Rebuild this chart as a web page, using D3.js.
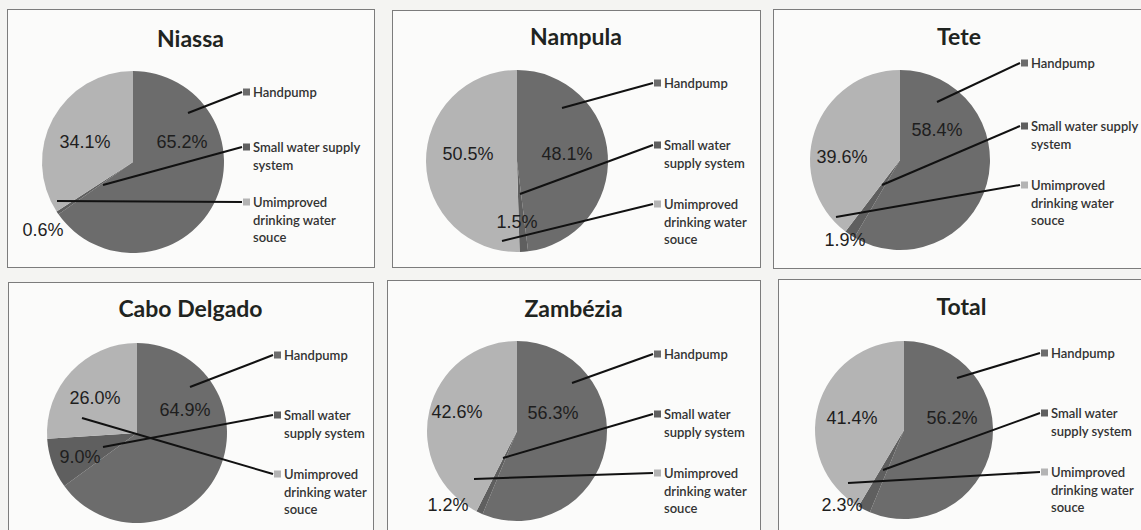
<!DOCTYPE html>
<html>
<head>
<meta charset="utf-8">
<script src="https://cdn.jsdelivr.net/npm/d3@7"></script>
<style>
  html, body { margin: 0; padding: 0; background: #f4f4f2; }
  svg { display: block; }
</style>
</head>
<body>
<div id="chart"></div>
<script>
// ---- Data ----
const regions = ["Niassa", "Nampula", "Tete", "Cabo Delgado", "Zambézia", "Total"];
const categories = ["Handpump", "Small water supply system", "Umimproved drinking water souce"];
const handpump   = [65.2, 48.1, 58.4, 64.9, 56.3, 56.2];
const smallWater = [0.6, 1.5, 1.9, 9.0, 1.2, 2.3];
const unimproved = [34.1, 50.5, 39.6, 26.0, 42.6, 41.4];

// ---- Layout (positions / styles) ----
const W = 1141, H = 530;
const colors = ["#6c6c6c", "#5f5f5f", "#b4b4b4"];
const layout = [
  { box: [7, 9, 374, 267],    titleY: 47,  c: [133, 162], r: 91, lx: 109, ly: [-70, -15, 40], wrap: 112,
    pct: [[49, -20], [-90, 68], [-48, -20]], ends: [[55, -49], [-30, 23], [-76, 39]] },
  { box: [392, 10, 760, 267], titleY: 45,  c: [517, 161], r: 91, lx: 136, ly: [-78, -16, 43], wrap: 88,
    pct: [[50, -7], [0, 61], [-49, -7]], ends: [[45, -53], [3, 33], [-15, 80]] },
  { box: [773, 9, 1145, 268], titleY: 45,  c: [900, 160], r: 90, lx: 120, ly: [-97, -34, 25], wrap: 112,
    pct: [[37, -30], [-55, 80], [-58, -3]], ends: [[37, -58], [-18, 25], [-64, 57]] },
  { box: [8, 282, 373, 540],  titleY: 317, c: [137, 433], r: 90, lx: 136, ly: [-78, -18, 41], wrap: 88,
    pct: [[48, -23], [-57, 24], [-42, -35]], ends: [[53, -46], [-34, 14], [-55, -15]] },
  { box: [387, 280, 760, 540], titleY: 317, c: [517, 431], r: 90, lx: 136, ly: [-77, -17, 42], wrap: 88,
    pct: [[36, -18], [-69, 74], [-60, -19]], ends: [[55, -48], [-14, 27], [-43, 48]] },
  { box: [778, 279, 1145, 540], titleY: 315, c: [904, 430], r: 89, lx: 136, ly: [-77, -17, 42], wrap: 88,
    pct: [[48, -12], [-62, 75], [-52, -12]], ends: [[53, -52], [-21, 40], [-56, 53]] }
];

const svg = d3.select("#chart").append("svg").attr("width", W).attr("height", H);
svg.append("rect").attr("width", W).attr("height", H).attr("fill", "#f4f4f2");

const pie = d3.pie().sort(null).value(d => d.value);
const color = d3.scaleOrdinal().domain(categories).range(colors);
const fmt = d3.format(".1f");

function wrapWords(textSel, text, maxW, lineH) {
  const words = text.split(" ");
  let line = [];
  let tspan = textSel.append("tspan").attr("x", textSel.attr("x")).attr("dy", 0);
  words.forEach(w => {
    line.push(w);
    tspan.text(line.join(" "));
    if (tspan.node().getComputedTextLength() > maxW && line.length > 1) {
      line.pop();
      tspan.text(line.join(" "));
      line = [w];
      tspan = textSel.append("tspan").attr("x", textSel.attr("x")).attr("dy", lineH).text(w);
    }
  });
}

regions.forEach((name, i) => {
  const L = layout[i];
  const data = categories.map((cat, k) => ({ cat, value: [handpump, smallWater, unimproved][k][i] }));
  const g = svg.append("g");
  const [x0, y0, x1, y1] = L.box;
  g.append("rect").attr("x", x0 + 0.5).attr("y", y0 + 0.5)
    .attr("width", x1 - x0).attr("height", y1 - y0)
    .attr("fill", "#fbfbfa").attr("stroke", "#7c7c7c").attr("stroke-width", 1);

  g.append("text").attr("x", (x0 + x1) / 2).attr("y", L.titleY)
    .attr("text-anchor", "middle")
    .style("font-family", "Lato, 'Open Sans', sans-serif").style("font-weight", 700)
    .style("font-size", "23px").attr("fill", "#1f2421").text(name);

  const pg = g.append("g").attr("transform", `translate(${L.c[0]},${L.c[1]})`);
  const arc = d3.arc().innerRadius(0).outerRadius(L.r);
  const arcs = pie(data);
  pg.selectAll("path").data(arcs).join("path")
    .attr("d", arc).attr("fill", d => color(d.data.cat));

  // percent labels
  pg.selectAll("text.pct").data(arcs).join("text").attr("class", "pct")
    .attr("x", (d, k) => L.pct[k][0]).attr("y", (d, k) => L.pct[k][1])
    .attr("text-anchor", "middle").attr("dominant-baseline", "central")
    .style("font-family", "'Liberation Sans', Arial, sans-serif").style("font-size", "18px")
    .attr("fill", "#1e1e1e").text(d => fmt(d.data.value) + "%");

  // leader lines
  pg.selectAll("line.lead").data(arcs).join("line").attr("class", "lead")
    .attr("x1", (d, k) => L.ends[k][0]).attr("y1", (d, k) => L.ends[k][1])
    .attr("x2", L.lx).attr("y2", (d, k) => L.ly[k])
    .attr("stroke", "#111").attr("stroke-width", 2);

  // category labels with markers
  categories.forEach((cat, k) => {
    pg.append("rect").attr("x", L.lx + 1).attr("y", L.ly[k] - 3.5)
      .attr("width", 7).attr("height", 7).attr("fill", color(cat));
    const t = pg.append("text").attr("x", L.lx + 11).attr("y", L.ly[k])
      .attr("dominant-baseline", "central")
      .style("font-family", "Lato, 'Open Sans', sans-serif").style("font-size", "13px")
      .style("font-weight", 600).attr("fill", "#333");
    wrapWords(t, cat, L.wrap, 17.5);
  });
});
</script>
</body>
</html>
